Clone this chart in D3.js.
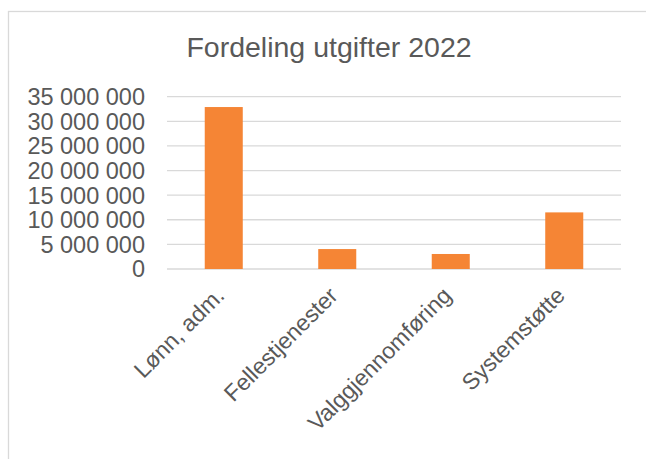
<!DOCTYPE html>
<html>
<head>
<meta charset="utf-8">
<script src="https://cdn.jsdelivr.net/npm/d3@7"></script>
<style>
  body { margin: 0; background: #fff; }
  svg { display: block; font-family: "Liberation Sans", Arial, sans-serif; }
</style>
</head>
<body>
<div id="chart"></div>
<script>
const title = 'Fordeling utgifter 2022';
const categories = ['Lønn, adm.', 'Fellestjenester', 'Valggjennomføring', 'Systemstøtte'];
const values = [32900000, 4050000, 3050000, 11500000];
const yTicks = [0, 5000000, 10000000, 15000000, 20000000, 25000000, 30000000, 35000000];

const width = 646;
const height = 459;
const plot = { left: 167, right: 621, top: 96.7, bottom: 269 };

const nb = d3.formatLocale({ decimal: ',', thousands: ' ', grouping: [3], currency: ['', ''] });
const fmt = nb.format(',d');

const svg = d3.select('#chart').append('svg')
  .attr('width', width)
  .attr('height', height);

// chart frame (cut off at right and bottom in the reference)
svg.append('rect')
  .attr('x', 8.5).attr('y', 11.5)
  .attr('width', 700).attr('height', 600)
  .attr('fill', 'none')
  .attr('stroke', '#d9d9d9')
  .attr('stroke-width', 1.3);

svg.append('text')
  .attr('x', 329).attr('y', 57.3)
  .attr('text-anchor', 'middle')
  .style('font-size', '28.5px')
  .style('fill', '#595959')
  .text(title);

const x = d3.scaleBand()
  .domain(categories)
  .range([plot.left, plot.right])
  .paddingInner(0.665)
  .paddingOuter(0.3325);

const y = d3.scaleLinear()
  .domain([0, 35000000])
  .range([plot.bottom, plot.top]);

// gridlines
svg.append('g')
  .selectAll('line')
  .data(yTicks)
  .join('line')
  .attr('x1', plot.left).attr('x2', plot.right)
  .attr('y1', d => y(d)).attr('y2', d => y(d))
  .attr('stroke', '#d9d9d9')
  .attr('stroke-width', 1.3);

// y tick labels
svg.append('g')
  .selectAll('text')
  .data(yTicks)
  .join('text')
  .attr('x', 145)
  .attr('y', d => y(d))
  .attr('dy', '0.36em')
  .attr('text-anchor', 'end')
  .style('font-size', '23.5px')
  .style('fill', '#595959')
  .text(d => fmt(d));

// bars
svg.append('g')
  .selectAll('rect')
  .data(values)
  .join('rect')
  .attr('x', (d, i) => x(categories[i]))
  .attr('width', x.bandwidth())
  .attr('y', d => y(d))
  .attr('height', d => y(0) - y(d))
  .attr('fill', '#f58535');

// category labels, rotated
svg.append('g')
  .selectAll('text')
  .data(categories)
  .join('text')
  .attr('text-anchor', 'end')
  .attr('transform', d => `translate(${x(d) + x.bandwidth() / 2 + 2},${plot.bottom + 28}) rotate(-45)`)
  .style('font-size', '23px')
  .style('fill', '#595959')
  .text(d => d);
</script>
</body>
</html>
